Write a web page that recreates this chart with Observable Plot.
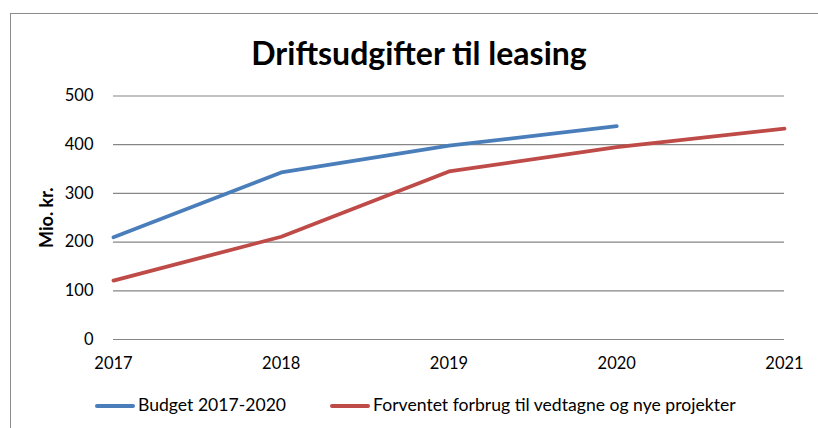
<!DOCTYPE html>
<html><head><meta charset="utf-8">
<script src="https://cdn.jsdelivr.net/npm/d3@7"></script>
<script src="https://cdn.jsdelivr.net/npm/@observablehq/plot@0.6"></script>
<style>
body{margin:0;background:#fff;}
#wrap{position:relative;width:818px;height:428px;overflow:hidden;font-family:Lato,sans-serif;color:#000;}
#frame{position:absolute;left:10px;top:13px;width:840px;height:440px;border:1.5px solid #8c8c8c;box-sizing:border-box;}
#title{position:absolute;left:10px;width:818px;top:37px;text-align:center;font-weight:bold;font-size:32px;line-height:32px;}
#chart{position:absolute;left:0;top:80px;}
.leg{position:absolute;top:395px;font-size:17.6px;line-height:20px;white-space:nowrap;}
.sw{display:inline-block;width:40px;height:4px;border-radius:2px;vertical-align:middle;margin-right:3px;position:relative;top:-1px;}
</style></head>
<body><div id="wrap"><div id="frame"></div><div id="title">Driftsudgifter til leasing</div><div id="chart"></div><div id="legend"></div></div>
<script>
const years = [2017, 2018, 2019, 2020, 2021];
const budget = [210, 343, 398, 438];
const forventet = [121, 211, 345, 395, 433];
const seriesNames = ["Budget 2017-2020", "Forventet forbrug til vedtagne og nye projekter"];
const seriesColors = ["#4a7ebb", "#be4b48"];
const yTicks = [0, 100, 200, 300, 400, 500];

const rows = [];
budget.forEach((v, i) => rows.push({year: years[i], value: v, series: seriesNames[0]}));
forventet.forEach((v, i) => rows.push({year: years[i], value: v, series: seriesNames[1]}));

const chart = Plot.plot({
  width: 818,
  height: 300,
  marginLeft: 113,
  marginRight: 34,
  marginTop: 15.5,
  marginBottom: 41,
  style: {fontFamily: "Lato, sans-serif", fontSize: "16.5px", color: "#000", background: "transparent"},
  x: {domain: [2017, 2021], ticks: years, tickFormat: d => String(d)},
  y: {domain: [0, 500], ticks: yTicks},
  color: {domain: seriesNames, range: seriesColors},
  marks: [
    Plot.gridY(yTicks, {stroke: "#868686", strokeOpacity: 1, strokeWidth: 1.2}),
    Plot.axisY({ticks: yTicks, tickSize: 0, tickPadding: 20, label: "Mio. kr.", labelAnchor: "center", labelArrow: "none", labelOffset: 73, fontSize: 16.5}),
    Plot.axisX({ticks: years, tickSize: 0, tickPadding: 18, tickFormat: d => String(d), label: null, fontSize: 16.5}),
    Plot.line(rows, {x: "year", y: "value", z: "series", stroke: "series", strokeWidth: 3.8, strokeLinecap: "round", strokeLinejoin: "round"})
  ]
});
document.getElementById("chart").appendChild(chart);
// bold, larger y label
chart.querySelectorAll("g[aria-label='y-axis label'] text").forEach(t => { t.style.fontWeight = "bold"; t.style.fontSize = "18px"; });

const legend = document.getElementById("legend");
const legLeft = [95, 330];
seriesNames.forEach((name, i) => {
  const d = document.createElement("div");
  d.className = "leg";
  d.style.left = legLeft[i] + "px";
  d.innerHTML = `<span class="sw" style="background:${seriesColors[i]}"></span>${name}`;
  legend.appendChild(d);
});
</script></body></html>
